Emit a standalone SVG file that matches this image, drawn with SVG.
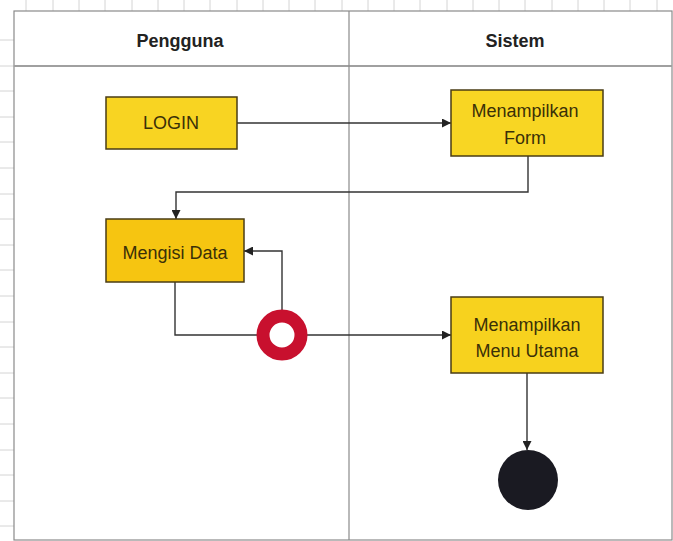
<svg xmlns="http://www.w3.org/2000/svg" width="673" height="541" viewBox="0 0 673 541">
<style>
.tick{stroke:#d4d4d4;stroke-width:1}
.lane{fill:none;stroke:#8a8a8a;stroke-width:1.2}
.hdr{font-family:"Liberation Sans",Arial,sans-serif;font-size:18px;font-weight:bold;fill:#222;text-anchor:middle}
.act{stroke:#4a3c14;stroke-width:1.5}
.lbl{font-family:"Liberation Sans",Arial,sans-serif;font-size:18px;fill:#3a3008;text-anchor:middle}
.conn{fill:none;stroke:#333;stroke-width:1.4}
</style>
<defs>
<marker id="arr" viewBox="0 0 10 10" refX="10" refY="5" markerWidth="9" markerHeight="9" markerUnits="userSpaceOnUse" orient="auto">
<path d="M0,0 L10,5 L0,10 z" fill="#222"/>
</marker>
</defs>
<rect width="673" height="541" fill="#fff"/>
<g id="ruler">
<path class="tick" d="M26,0V11M53,0V11M79,0V11M105,0V11M132,0V11M158,0V11M184,0V11M210,0V11M237,0V11M263,0V11M289,0V11M315,0V11M342,0V11M368,0V11M394,0V11M420,0V11M447,0V11M473,0V11M499,0V11M525,0V11M552,0V11M578,0V11M604,0V11M630,0V11M657,0V11"/>
<path class="tick" d="M0,40H14M0,66H14M0,91H14M0,117H14M0,142H14M0,168H14M0,194H14M0,219H14M0,245H14M0,270H14M0,296H14M0,322H14M0,347H14M0,373H14M0,398H14M0,424H14M0,450H14M0,475H14M0,501H14M0,526H14"/>
</g>
<g id="swimlanes">
<rect class="lane" x="14" y="11" width="658" height="529"/>
<line x1="14" y1="66" x2="672" y2="66" stroke="#a0a0a0" stroke-width="2"/>
<line x1="349" y1="11" x2="349" y2="540" stroke="#8a8a8a" stroke-width="1.2"/>
<text class="hdr" x="180" y="47">Pengguna</text>
<text class="hdr" x="515" y="47">Sistem</text>
</g>
<g id="connectors">
<path class="conn" d="M237,123H451" marker-end="url(#arr)"/>
<path class="conn" d="M528,156V192H176V219" marker-end="url(#arr)"/>
<path class="conn" d="M175,282V335H257"/>
<path class="conn" d="M282,310V251H244" marker-end="url(#arr)"/>
<path class="conn" d="M307,335H451" marker-end="url(#arr)"/>
<path class="conn" d="M527,373V450" marker-end="url(#arr)"/>
</g>
<g id="login">
<rect class="act" x="106" y="97" width="131" height="52" fill="#F8D422"/>
<text class="lbl" x="171" y="129">LOGIN</text>
</g>
<g id="tampil-form">
<rect class="act" x="451" y="90" width="152" height="66" fill="#F8D623"/>
<text class="lbl" x="525" y="117">Menampilkan</text>
<text class="lbl" x="525" y="144">Form</text>
</g>
<g id="mengisi-data">
<rect class="act" x="106" y="219" width="138" height="63" fill="#F6C511"/>
<text class="lbl" x="175" y="259">Mengisi Data</text>
</g>
<g id="decision">
<circle cx="282" cy="335" r="19" fill="none" stroke="#C8102E" stroke-width="13"/>
</g>
<g id="tampil-menu">
<rect class="act" x="451" y="297" width="152" height="76" fill="#F7D21E"/>
<text class="lbl" x="527" y="331">Menampilkan</text>
<text class="lbl" x="527" y="357">Menu Utama</text>
</g>
<g id="end">
<circle cx="528" cy="480" r="30" fill="#1a1a22"/>
</g>
</svg>
